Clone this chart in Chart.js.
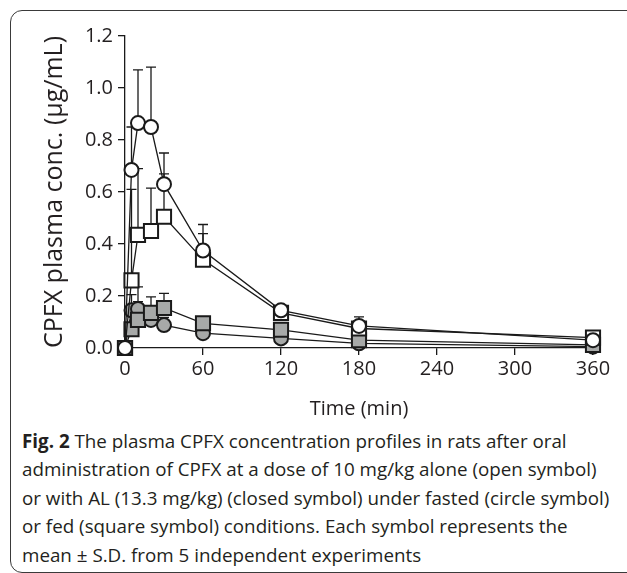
<!DOCTYPE html>
<html>
<head>
<meta charset="utf-8">
<script src="https://cdn.jsdelivr.net/npm/chart.js@4.4.1/dist/chart.umd.min.js"></script>
<style>
  html, body { margin: 0; padding: 0; background: #fff; }
  body { width: 627px; height: 573px; position: relative; overflow: hidden; font-family: 'Open Sans', sans-serif; color: #231f20; }
  #frame { position: absolute; left: 10px; top: 10px; width: 700px; height: 563px; border: 1.5px solid #3a3a3a; border-radius: 12px; box-sizing: border-box; }
  #wrap { position: absolute; left: 0; top: 0; width: 627px; height: 425px; }
  #caption { position: absolute; left: 22px; top: 427px; font-size: 18.8px; line-height: 28.4px; white-space: nowrap; }
  #caption b { font-weight: 700; }
</style>
</head>
<body>
<div id="frame"></div>
<div id="wrap"><canvas id="pkChart"></canvas></div>
<div id="caption">
  <div><b>Fig. 2</b> The plasma CPFX concentration profiles in rats after oral</div>
  <div>administration of CPFX at a dose of 10 mg/kg alone (open symbol)</div>
  <div>or with AL (13.3 mg/kg) (closed symbol) under fasted (circle symbol)</div>
  <div>or fed (square symbol) conditions. Each symbol represents the</div>
  <div>mean ± S.D. from 5 independent experiments</div>
</div>
<script>
  // sampling times (min)
  const times = [0, 5, 10, 20, 30, 60, 120, 180, 360];
  // CPFX alone, fasted (open circle)
  const aloneFasted = [0, 0.685, 0.865, 0.85, 0.63, 0.375, 0.145, 0.085, 0.03];
  const aloneFastedSD = [0, 0.165, 0.205, 0.23, 0.12, 0.10, 0.02, 0.035, 0.01];
  // CPFX alone, fed (open square)
  const aloneFed = [0, 0.26, 0.435, 0.45, 0.505, 0.34, 0.135, 0.075, 0.04];
  const aloneFedSD = [0, 0.35, 0.255, 0.165, 0.165, 0.10, 0.02, 0.02, 0.01];
  // with AL, fed (closed square)
  const alFed = [0, 0.072, 0.108, 0.135, 0.154, 0.095, 0.07, 0.03, 0.012];
  const alFedSD = [0, 0.05, 0.07, 0.062, 0.056, 0.02, 0.015, 0.01, 0.005];
  // with AL, fasted (closed circle)
  const alFasted = [0, 0.145, 0.15, 0.108, 0.088, 0.057, 0.037, 0.018, 0.005];
  const alFastedSD = [0, 0.06, 0.085, 0.05, 0.03, 0.02, 0.01, 0.01, 0.005];

  const xTicks = [0, 60, 120, 180, 240, 300, 360];
  const yTicks = [0, 0.2, 0.4, 0.6, 0.8, 1.0, 1.2];

  const ink = '#1a1a1a';
  const grey = '#a7a9a8';
  const tickFont = { family: 'Open Sans', size: 20 };

  function pts(vals) {
    return times.map((t, i) => ({ x: t, y: vals[i] }));
  }

  function series(vals, sd, style, fill, radius) {
    return {
      data: pts(vals),
      sd: sd,
      showLine: true,
      borderColor: ink,
      borderWidth: 1.3,
      pointStyle: style,
      pointRadius: radius,
      pointHoverRadius: radius,
      pointBackgroundColor: fill,
      pointBorderColor: ink,
      pointBorderWidth: 2,
      clip: false
    };
  }

  // upward SD bars drawn under all markers
  const errorBars = {
    id: 'errorBars',
    beforeDatasetsDraw(chart) {
      const ctx = chart.ctx;
      const xs = chart.scales.x, ys = chart.scales.y;
      ctx.save();
      ctx.strokeStyle = ink;
      ctx.lineWidth = 1.3;
      chart.data.datasets.forEach(ds => {
        ds.data.forEach((p, i) => {
          const s = ds.sd[i];
          if (!s) return;
          const px = xs.getPixelForValue(p.x);
          const y0 = ys.getPixelForValue(p.y);
          const y1 = ys.getPixelForValue(p.y + s);
          ctx.beginPath();
          ctx.moveTo(px, y0);
          ctx.lineTo(px, y1);
          ctx.moveTo(px - 5, y1);
          ctx.lineTo(px + 5, y1);
          ctx.stroke();
        });
      });
      ctx.restore();
    }
  };

  const ctx = document.getElementById('pkChart').getContext('2d');
  const blackCorner = times.map((t, i) => i === 0 ? ink : grey);

  new Chart(ctx, {
    type: 'scatter',
    data: {
      datasets: [
        series(aloneFasted, aloneFastedSD, 'circle', '#fff', 7),
        series(aloneFed, aloneFedSD, 'rect', '#fff', 10),
        series(alFed, alFedSD, 'rect', blackCorner, 10),
        series(alFasted, alFastedSD, 'circle', grey, 7)
      ]
    },
    options: {
      responsive: true,
      maintainAspectRatio: false,
      animation: false,
      events: [],
      layout: { padding: { left: 36, top: 36, right: 34, bottom: 0 } },
      plugins: { legend: { display: false }, tooltip: { enabled: false } },
      scales: {
        x: {
          type: 'linear',
          min: 0,
          max: 360,
          afterBuildTicks: s => { s.ticks = xTicks.map(v => ({ value: v })); },
          afterFit: s => { s.height = 77; },
          grid: { drawOnChartArea: false, drawTicks: true, tickLength: 7, color: ink, lineWidth: 1.3 },
          border: { display: true, color: ink, width: 1.3 },
          ticks: { color: '#231f20', font: tickFont, padding: 2, maxRotation: 0 },
          title: { display: true, text: 'Time (min)', color: '#231f20', font: { family: 'Open Sans', size: 20 }, padding: { top: 4 } }
        },
        y: {
          type: 'linear',
          min: 0,
          max: 1.2,
          afterBuildTicks: s => { s.ticks = yTicks.map(v => ({ value: v })); },
          afterFit: s => { s.width = 89; },
          grid: { drawOnChartArea: false, drawTicks: true, tickLength: 7, color: ink, lineWidth: 1.3 },
          border: { display: true, color: ink, width: 1.3 },
          ticks: { color: '#231f20', font: tickFont, padding: 5, callback: v => v.toFixed(1) },
          title: { display: true, text: 'CPFX plasma conc. (μg/mL)', color: '#231f20', font: { family: 'Open Sans', size: 25 }, padding: { top: 4, bottom: 4 } }
        }
      }
    },
    plugins: [errorBars]
  });
</script>
</body>
</html>
